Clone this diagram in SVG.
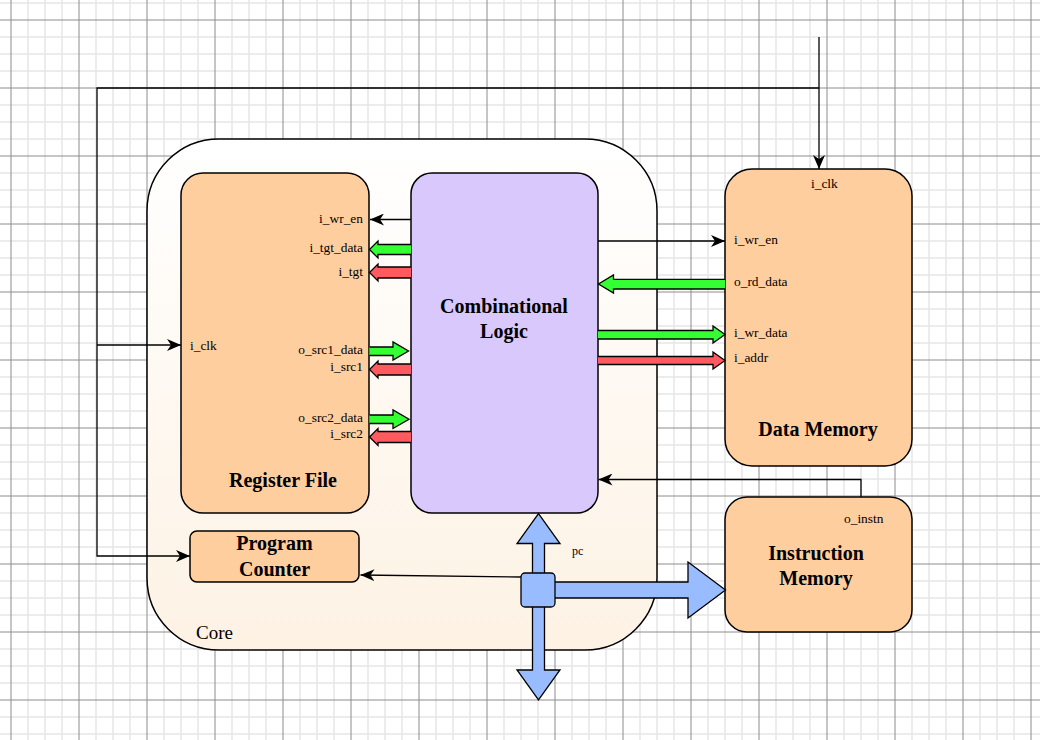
<svg xmlns="http://www.w3.org/2000/svg" width="1040" height="740" viewBox="0 0 1040 740">
<style>
.box{stroke:#000;stroke-width:1.5}
.org{fill:#ffce9f}
.lbl{font-family:"Liberation Serif",serif;font-size:13.4px;fill:#000}
.ttl{font-family:"Liberation Serif",serif;font-size:20px;font-weight:bold;fill:#000;text-anchor:middle}
.ln{fill:none;stroke:#000;stroke-width:1.3}
.fa{stroke:#000;stroke-width:1.3;stroke-linejoin:miter}
.g{fill:#33ff33}
.r{fill:#ff5a5f}
.b{fill:#99bbff}
</style>
<defs>
<pattern id="grid" x="3" y="12" width="68" height="68" patternUnits="userSpaceOnUse">
<path d="M25,0V68M42,0V68M59,0V68M0,25H68M0,42H68M0,59H68" stroke="#e6e6e6" stroke-width="1.5" fill="none"/>
<path d="M8,0V68M0,8H68" stroke="#8c8c8c" stroke-width="1" fill="none"/>
</pattern>
<linearGradient id="coreg" x1="0" y1="0" x2="0" y2="1">
<stop offset="0" stop-color="#ffffff"/>
<stop offset="1" stop-color="#fdf2e4"/>
</linearGradient>
<marker id="arr" viewBox="0 0 14 12" refX="14" refY="6" markerWidth="14" markerHeight="12" markerUnits="userSpaceOnUse" orient="auto">
<path d="M0,0 L14,6 L0,12 L4,6 Z" fill="#000"/>
</marker>
</defs>
<rect width="1040" height="740" fill="#ffffff"/>
<rect width="1040" height="740" fill="url(#grid)"/>

<g id="core">
<rect class="box" x="147" y="139" width="510" height="511" rx="72" fill="url(#coreg)"/>
<text class="lbl" x="196" y="639" style="font-size:19px">Core</text>
</g>

<g id="register-file">
<rect class="box org" x="181" y="173" width="188" height="340" rx="22"/>
<text class="ttl" x="283" y="487">Register File</text>
<text class="lbl" x="190" y="350">i_clk</text>
<g text-anchor="end">
<text class="lbl" x="363" y="223">i_wr_en</text>
<text class="lbl" x="363" y="252">i_tgt_data</text>
<text class="lbl" x="363" y="276">i_tgt</text>
<text class="lbl" x="363" y="354">o_src1_data</text>
<text class="lbl" x="363" y="371">i_src1</text>
<text class="lbl" x="363" y="422">o_src2_data</text>
<text class="lbl" x="363" y="438">i_src2</text>
</g>
</g>

<g id="combinational-logic">
<rect class="box" x="411" y="173" width="187" height="340" rx="21" fill="#d9c8fc"/>
<text class="ttl" x="504" y="313">Combinational</text>
<text class="ttl" x="504" y="338">Logic</text>
</g>

<g id="data-memory">
<rect class="box org" x="725" y="169" width="187" height="297" rx="27"/>
<text class="ttl" x="818" y="436">Data Memory</text>
<text class="lbl" x="811" y="188">i_clk</text>
<text class="lbl" x="734" y="244">i_wr_en</text>
<text class="lbl" x="734" y="286">o_rd_data</text>
<text class="lbl" x="734" y="337">i_wr_data</text>
<text class="lbl" x="734" y="362">i_addr</text>
</g>

<g id="instruction-memory">
<rect class="box org" x="725" y="497" width="187" height="135" rx="22"/>
<text class="ttl" x="816" y="560">Instruction</text>
<text class="ttl" x="816" y="585">Memory</text>
<text class="lbl" x="844" y="523">o_instn</text>
</g>

<g id="program-counter">
<rect class="box org" x="190" y="531" width="169" height="51" rx="7"/>
<text class="ttl" x="274.5" y="550">Program</text>
<text class="ttl" x="274.5" y="576">Counter</text>
</g>

<g id="connectors">
<path class="ln" d="M819,37 V169" marker-end="url(#arr)"/>
<path class="ln" d="M819,88 H97 V556 H190" marker-end="url(#arr)"/>
<path class="ln" d="M97,345 H181" marker-end="url(#arr)"/>
<path class="ln" d="M411,219.5 H370" marker-end="url(#arr)"/>
<path class="ln" d="M598,241 H725" marker-end="url(#arr)"/>
<path class="ln" d="M861,497 V479.5 H598.5" marker-end="url(#arr)"/>
<path class="ln" d="M521,577 L360.5,575" marker-end="url(#arr)"/>

<path class="fa g" d="M411,244.5 H378 V241 L369.5,249.5 L378,258 V254.5 H411"/>
<path class="fa r" d="M411,267 H378 V264 L369.5,272.5 L378,281 V278 H411"/>
<path class="fa g" d="M369.5,347 H393 V342 L408.5,351 L393,360 V355.5 H369.5"/>
<path class="fa r" d="M411,364 H378 V361 L369.5,369.5 L378,378 V375 H411"/>
<path class="fa g" d="M369.5,415 H393 V410 L409,419.3 L393,428.5 V423.5 H369.5"/>
<path class="fa r" d="M411,431.5 H378 V428.5 L369.5,437 L378,445.5 V442.5 H411"/>

<path class="fa g" d="M725,279.3 H613.5 V275 L598.5,284 L613.5,293 V289 H725"/>
<path class="fa g" d="M598,330.5 H713 V326 L725,334.5 L713,343 V339 H598"/>
<path class="fa r" d="M598,356.5 H713 V352 L725,360.5 L713,369 V364.5 H598"/>

<path class="fa b" d="M532.5,580 V543.5 H517 L538.5,513.5 L560,543.5 H544.5 V580 Z"/>
<path class="fa b" d="M532.5,600 V670 H517 L538.5,700 L560,670 H544.5 V600 Z"/>
<path class="fa b" d="M540,582 H688 V562 L725.5,590 L688,618 V598 H540 Z"/>
<rect class="fa b" x="521" y="573" width="34" height="34" rx="4"/>
<text class="lbl" x="572" y="555" style="font-size:12px">pc</text>
</g>
</svg>
